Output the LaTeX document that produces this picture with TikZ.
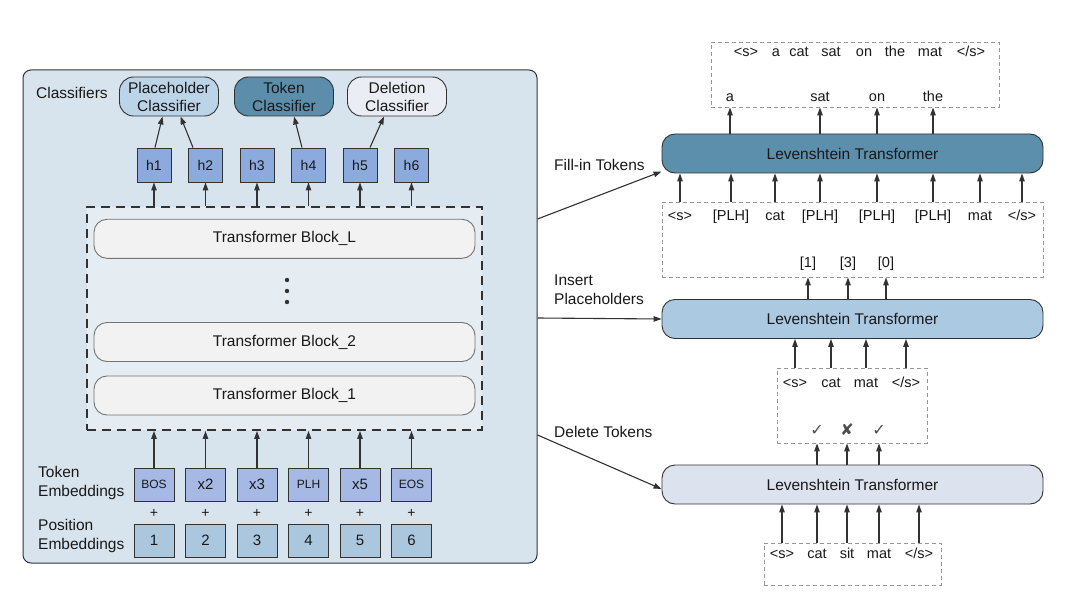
\documentclass[tikz,border=0pt]{standalone}
\usepackage{fontspec}
\setmainfont{Liberation Sans}
\newfontfamily\symfont{DejaVu Sans}
\usetikzlibrary{arrows.meta}
\definecolor{panelfill}{RGB}{216,228,237}
\definecolor{dboxfill}{RGB}{229,236,242}
\definecolor{linec}{RGB}{50,50,50}
\definecolor{pcfill}{RGB}{188,212,232}
\definecolor{tcfill}{RGB}{92,142,171}
\definecolor{dcfill}{RGB}{234,237,244}
\definecolor{hfill}{RGB}{140,170,222}
\definecolor{tokfill}{RGB}{165,185,228}
\definecolor{posfill}{RGB}{170,199,222}
\definecolor{blockfill}{RGB}{242,242,242}
\definecolor{ltone}{RGB}{92,143,172}
\definecolor{lttwo}{RGB}{171,201,225}
\definecolor{ltthree}{RGB}{220,226,238}
\definecolor{txt}{RGB}{25,25,25}
\definecolor{dashc}{RGB}{150,150,150}
\begin{document}
\begin{tikzpicture}[x=1pt,y=-1pt,
  every node/.style={text=txt},
  fnt/.style={font=\fontsize{15.5}{19}\selectfont},
  small/.style={font=\fontsize{12}{14}\selectfont},
  word/.style={fnt, inner sep=0pt, text height=11pt, text depth=3pt, font=\fontsize{14.5}{17}\selectfont},
  arr/.style={draw=linec, line width=1.1pt, -{Triangle[length=8pt,width=5.5pt]}},
  hbox/.style={draw=linec, line width=0.9pt, fill=hfill, minimum width=34pt, minimum height=34pt, inner sep=0pt, font=\fontsize{14}{16}\selectfont},
  tokbox/.style={draw=linec, line width=0.9pt, fill=tokfill, minimum width=40pt, minimum height=33pt, inner sep=0pt, font=\fontsize{15}{17}\selectfont},
  posbox/.style={tokbox, fill=posfill},
  cls/.style={draw=linec, line width=0.9pt, rounded corners=14pt, minimum width=99pt, minimum height=39pt, inner sep=0pt, align=center, font=\fontsize{15.5}{18}\selectfont},
  tblock/.style={draw=black!55, line width=0.9pt, fill=blockfill, rounded corners=13pt, minimum width=381pt, minimum height=39pt, inner sep=0pt, fnt},
  ltbox/.style={draw=linec, line width=0.9pt, rounded corners=13pt, minimum width=381pt, minimum height=39pt, inner sep=0pt, fnt},
  thindash/.style={draw=dashc, line width=0.9pt, dash pattern=on 4pt off 3pt, inner sep=0pt},
  lbl/.style={fnt, inner sep=0pt, align=left, anchor=west},
  tick/.style={word, font=\symfont\fontsize{16}{18}\selectfont, text=black!70}
]
\fill[white] (0,0) rectangle (1080,599);
\useasboundingbox (0,0) rectangle (1080,599);

% ---------- left panel ----------
\node[draw=linec, line width=1pt, fill=panelfill, rounded corners=8pt, minimum width=514pt, minimum height=493pt, inner sep=0pt] (panel) at (280,316.5) {};
\node[draw=linec, line width=1.9pt, dash pattern=on 9pt off 6pt, fill=dboxfill, minimum width=395pt, minimum height=223pt, inner sep=0pt] (stack) at (284.5,318.5) {};

\node[tblock] (bL) at (284.5,238.8) {Transformer Block\_L};
\node[tblock] (b2) at (284.5,342) {Transformer Block\_2};
\node[tblock] (b1) at (284.5,395.5) {Transformer Block\_1};
\fill[linec] (287,280) circle (2.2pt) (287,291) circle (2.2pt) (287,302) circle (2.2pt);

\node[lbl] (clslbl) at (36,93) {Classifiers};
\node[cls, fill=pcfill] (pc) at (169,96.5) {Placeholder\\Classifier};
\node[cls, fill=tcfill] (tc) at (284,96.5) {Token\\Classifier};
\node[cls, fill=dcfill] (dc) at (397,96.5) {Deletion\\Classifier};

\node[hbox] (h1) at (154,165) {h1};
\node[hbox] (h2) at (205.5,165) {h2};
\node[hbox] (h3) at (257,165) {h3};
\node[hbox] (h4) at (308.5,165) {h4};
\node[hbox] (h5) at (360,165) {h5};
\node[hbox] (h6) at (411.5,165) {h6};

\foreach \n in {h1,h2,h3,h4,h5,h6} {
  \draw[arr] (\n.south |- stack.north) -- (\n.south);
}
\draw[arr] ([xshift=1pt]h1.north) -- ([xshift=-6.5pt]pc.south);
\draw[arr] ([xshift=-12.5pt]h2.north) -- ([xshift=11.5pt]pc.south);
\draw[arr] ([xshift=-6.5pt]h4.north) -- ([xshift=10pt]tc.south);
\draw[arr] ([xshift=10pt]h5.north) -- ([xshift=-13pt]dc.south);

\node[tokbox, small] (t1) at (154,484.5) {BOS};
\node[tokbox] (t2) at (205.5,484.5) {x2};
\node[tokbox] (t3) at (257,484.5) {x3};
\node[tokbox, small] (t4) at (308.5,484.5) {PLH};
\node[tokbox] (t5) at (360,484.5) {x5};
\node[tokbox, small] (t6) at (411.5,484.5) {EOS};

\foreach \i in {1,...,6} {
  \draw[arr] (t\i.north) -- (t\i.north |- stack.south);
}

\node[posbox] (p1) at (154,540.5) {1};
\node[posbox] (p2) at (205.5,540.5) {2};
\node[posbox] (p3) at (257,540.5) {3};
\node[posbox] (p4) at (308.5,540.5) {4};
\node[posbox] (p5) at (360,540.5) {5};
\node[posbox] (p6) at (411.5,540.5) {6};
\foreach \x/\k in {154/1,205.5/2,257/3,308.5/4,360/5,411.5/6} {
  \node[inner sep=0pt, font=\fontsize{14}{16}\selectfont] (plus\k) at (\x,513) {+};
}

\node[lbl] (toklbl) at (38,482.5) {Token\\Embeddings};
\node[lbl] (poslbl) at (38,536) {Position\\Embeddings};

% ---------- right side ----------
\node[thindash, minimum width=288pt, minimum height=65pt] (outbox) at (855,74.5) {};
\foreach \x/\w/\k in {746/{<s>}/1,776/a/2,799/cat/3,831/sat/4,864/on/5,895/the/6,930/mat/7,971/{</s>}/8} {
  \node[word] (s\k) at (\x,53) {\w};
}
\node[word] (oa) at (730,98) {a};
\node[word] (osat) at (820,98) {sat};
\node[word] (oon) at (877,98) {on};
\node[word] (othe) at (933,98) {the};

\node[ltbox, fill=ltone] (lt1) at (852.5,153.5) {Levenshtein Transformer};
\foreach \n in {oa,osat,oon,othe} {
  \draw[arr] (\n |- lt1.north) -- (\n |- outbox.south);
}

\node[thindash, minimum width=381pt, minimum height=75pt] (inbox) at (852.5,239.5) {};
\foreach \x/\w/\k in {680/{<s>}/1,731/{[PLH]}/2,775/cat/3,820/{[PLH]}/4,877/{[PLH]}/5,933/{[PLH]}/6,980/mat/7,1022/{</s>}/8} {
  \node[word] (i\k) at (\x,217) {\w};
  \draw[arr] (i\k |- inbox.north) -- (i\k |- lt1.south);
}
\node[word] (n1) at (808,263) {[1]};
\node[word] (n2) at (848,263) {[3]};
\node[word] (n3) at (886,263) {[0]};

\node[ltbox, fill=lttwo] (lt2) at (852.5,319) {Levenshtein Transformer};
\foreach \n in {n1,n2,n3} {
  \draw[arr] (\n |- lt2.north) -- (\n |- inbox.south);
}

\node[thindash, minimum width=150pt, minimum height=75pt] (midbox) at (852,405.5) {};
\foreach \x/\w/\k in {795/{<s>}/1,831/cat/2,866/mat/3,906/{</s>}/4} {
  \node[word] (m\k) at (\x,383) {\w};
  \draw[arr] (m\k |- midbox.north) -- (m\k |- lt2.south);
}
\node[tick] (c1) at (817,431) {✓};
\node[tick] (c2) at (847,431) {✘};
\node[tick] (c3) at (879,431) {✓};

\node[ltbox, fill=ltthree] (lt3) at (852.5,484.5) {Levenshtein Transformer};
\foreach \n in {c1,c2,c3} {
  \draw[arr] (\n |- lt3.north) -- (\n |- midbox.south);
}

\node[thindash, minimum width=177pt, minimum height=42pt] (botbox) at (852.5,564) {};
\foreach \x/\w/\k in {782/{<s>}/1,817/cat/2,847/sit/3,879/mat/4,919/{</s>}/5} {
  \node[word] (b\k) at (\x,554) {\w};
  \draw[arr] (b\k |- botbox.north) -- (b\k |- lt3.south);
}

% ---------- connectors from panel ----------
\node[lbl] (fill) at (554,165) {Fill-in Tokens};
\node[lbl] (ins) at (554,289.5) {Insert\\Placeholders};
\node[lbl] (del) at (554,432) {Delete Tokens};
\draw[arr] ([yshift=97.5pt]panel.east) -- ([yshift=-18pt]lt1.west);
\draw[arr] ([yshift=-1.5pt]panel.east) -- (lt2.west);
\draw[arr] ([yshift=-118.5pt]panel.east) -- ([yshift=-4.5pt]lt3.west);
\end{tikzpicture}
\end{document}
